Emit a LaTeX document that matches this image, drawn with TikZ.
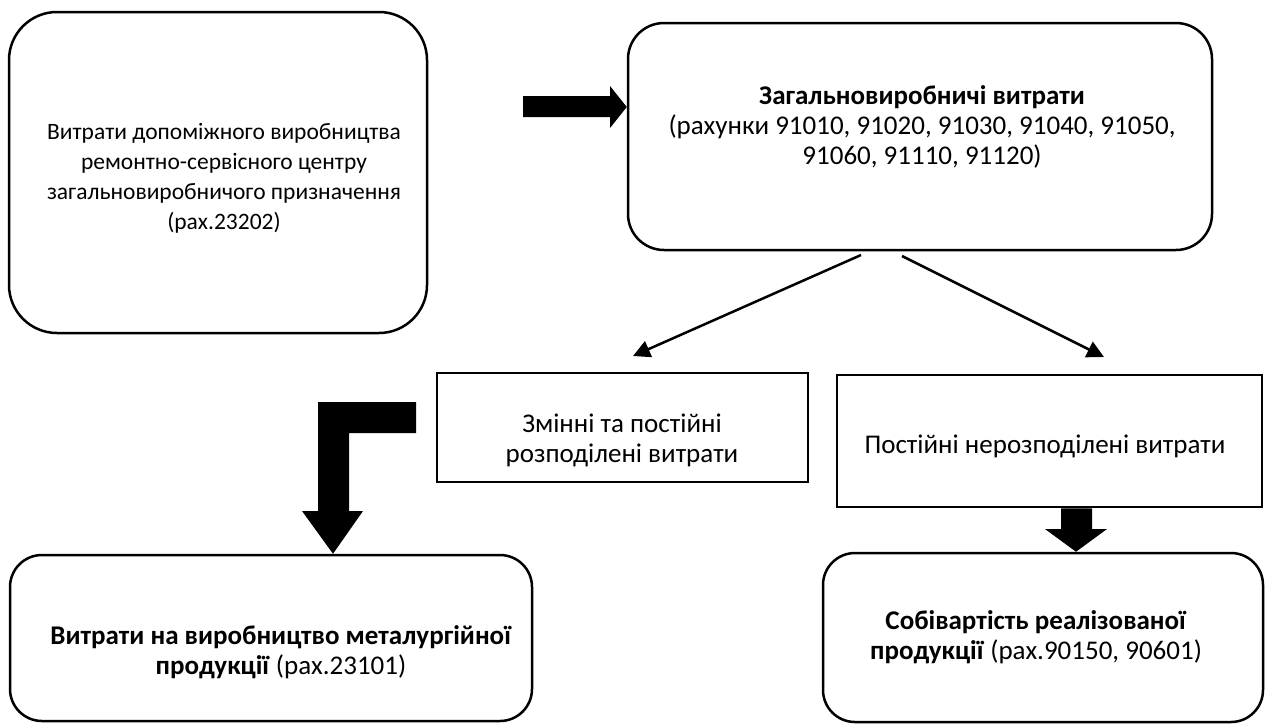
\documentclass[tikz,border=0pt]{standalone}
\usepackage{fontspec}
\setmainfont{Carlito}
\usetikzlibrary{arrows.meta}
\begin{document}
\begin{tikzpicture}[x=1pt,y=-1pt,
  box/.style={draw=black, line width=2.5pt, rectangle, inner sep=0pt},
  rbox/.style={box, rounded corners=#1},
  txt/.style={align=center, font=\fontsize{27}{30}\selectfont, inner sep=0pt},
  txtA/.style={align=center, font=\fontsize{23.5}{30}\selectfont, inner sep=0pt},
  thin/.style={line width=2.5pt, -{Triangle[length=17pt,width=17pt]}},
  fat/.style={fill=black, draw=none}]
\useasboundingbox (0,0) rectangle (1265,724);
% boxes
\node[rbox=48pt, minimum width=418pt, minimum height=321pt] (A) at (218,172.5) {};
\node[rbox=36pt, minimum width=584pt, minimum height=227pt] (B) at (920,136.5) {};
\node[box, minimum width=371pt, minimum height=109pt] (C) at (622.5,427.5) {};
\node[box, minimum width=425pt, minimum height=132pt] (D) at (1049.5,441) {};
\node[rbox=32pt, minimum width=522pt, minimum height=166pt] (E) at (271,638) {};
\node[rbox=32pt, minimum width=440pt, minimum height=169pt] (F) at (1043,637.5) {};
% texts
\node[txtA] (tA) at (224,178) {Витрати допоміжного виробництва\\ремонтно-сервісного центру\\загальновиробничого призначення\\(рах.23202)};
\node[txt] (tB) at (922,127) {\textbf{Загальновиробничі витрати}\\(рахунки 91010, 91020, 91030, 91040, 91050,\\91060, 91110, 91120)};
\node[txt] (tC) at (622,440) {Змінні та постійні\\розподілені витрати};
\node[txt] (tD) at (1045,446) {Постійні нерозподілені витрати};
\node[txt] (tE) at (281,652) {\textbf{Витрати на виробництво металургійної}\\\textbf{продукції} (рах.23101)};
\node[txt] (tF) at (1036,637) {\textbf{Собівартість реалізованої}\\\textbf{продукції} (рах.90150, 90601)};
% thin arrows
\coordinate (b1) at (861,255);
\coordinate (c1) at (633,356);
\coordinate (b2) at (902,256);
\coordinate (d1) at (1104,357);
\draw[thin] (b1) -- (c1);
\draw[thin] (b2) -- (d1);
% block arrow A -> B
\fill[fat] (523,96) -- (610,96) -- (610,86) -- (B.west |- 0,107) -- (610,128) -- (610,117) -- (523,117) -- cycle;
% L-shaped block arrow C -> E
\fill[fat] (416,402) -- (318,402) -- (318,511) -- (302,511) -- (333,0 |- E.north) -- (363,511) -- (349,511) -- (349,433) -- (416,433) -- cycle;
% block arrow D -> F
\fill[fat] (1061,0 |- D.south) -- (1092,0 |- D.south) -- (1092,529) -- (1107,529) -- (1076,0 |- F.north) -- (1045,529) -- (1061,529) -- cycle;
\end{tikzpicture}
\end{document}
